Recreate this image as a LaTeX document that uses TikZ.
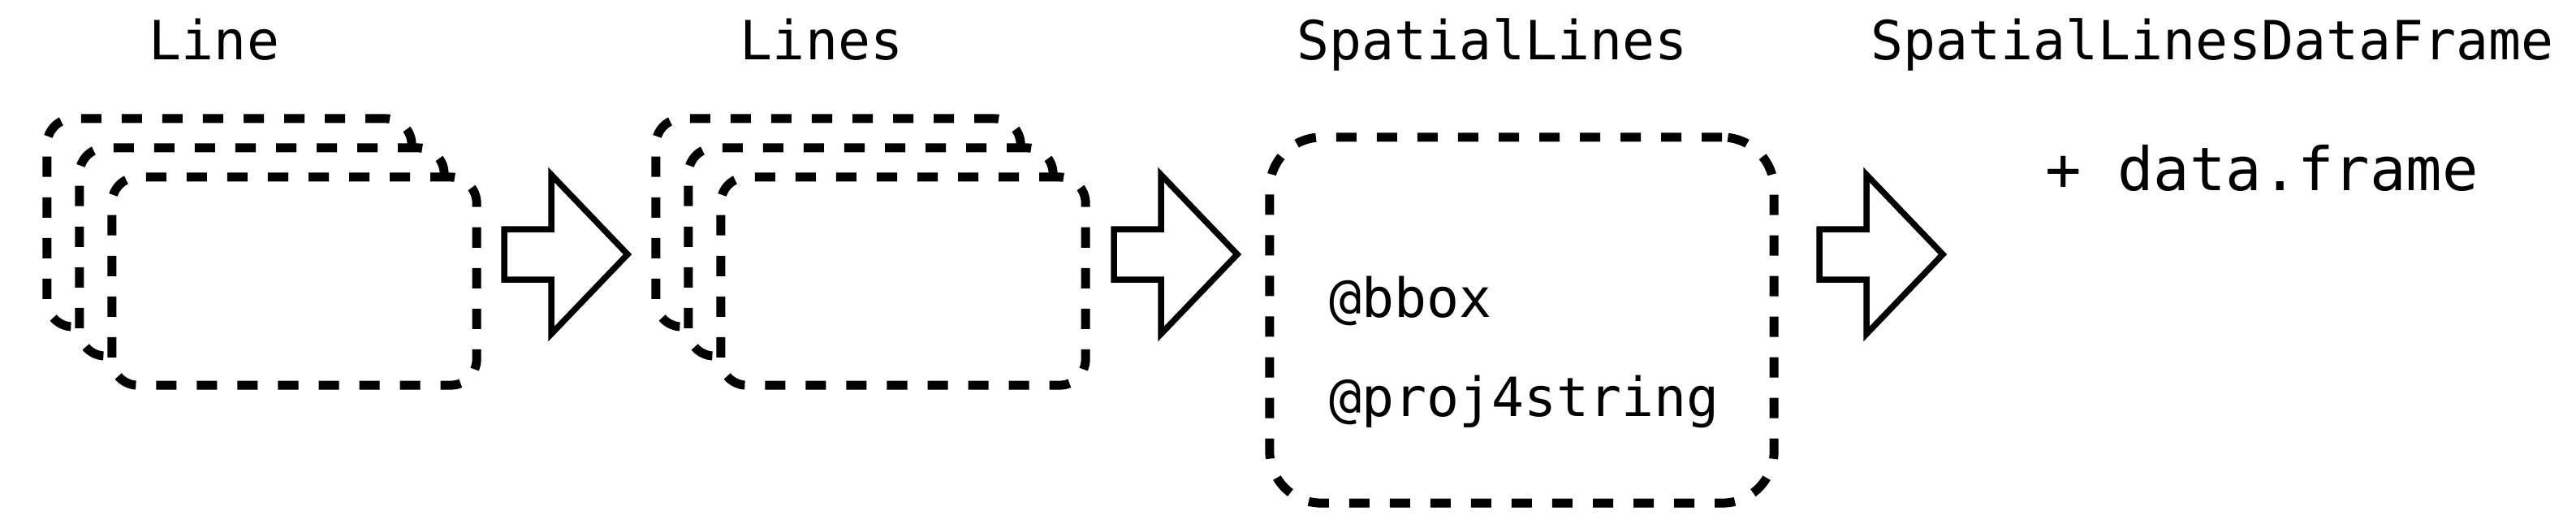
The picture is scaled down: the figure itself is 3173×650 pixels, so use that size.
\documentclass[tikz,border=0pt]{standalone}
\usepackage{fontspec}
\setmonofont{DejaVu Sans Mono}
\begin{document}
\begin{tikzpicture}[x=0.01cm,y=-0.01cm,
  dbox/.style={draw, line width=0.11cm, dash pattern=on 0.25cm off 0.25cm,
    fill=white, rounded corners=0.32cm, minimum width=4.49cm, minimum height=2.56cm,
    inner sep=0pt, outer sep=0pt},
  bigbox/.style={dbox, rounded corners=0.64cm, minimum width=6.21cm, minimum height=4.5cm},
  head/.style={font=\ttfamily\fontsize{18.9}{22}\selectfont, anchor=base, inner sep=0pt},
  slot/.style={font=\ttfamily\fontsize{18.9}{22}\selectfont, anchor=base west, inner sep=0pt},
  extra/.style={font=\ttfamily\fontsize{21}{25}\selectfont, anchor=base, inner sep=0pt},
  blockarrow/.pic={\draw[line width=0.075cm, fill=white, line join=miter]
    (0,-31) -- (58,-31) -- (58,-98) -- (152,0) -- (58,98) -- (58,31) -- (0,31) -- cycle;}
]
\useasboundingbox[fill=white] (0,0) rectangle (3173,650);

% headings
\node[head] (hLine) at (264,73) {Line};
\node[head] (hLines) at (1012,73) {Lines};
\node[head] (hSL) at (1838,73) {SpatialLines};
\node[head] (hSLDF) at (2725,73) {SpatialLinesDataFrame};

% group 1: Line
\node[dbox] (a1) at (282.5,274) {};
\node[dbox] (a2) at (322.5,310) {};
\node[dbox] (a3) at (362.5,346) {};

% group 2: Lines
\node[dbox] (b1) at (1032.5,274) {};
\node[dbox] (b2) at (1072.5,310) {};
\node[dbox] (b3) at (1112.5,346) {};

% SpatialLines box
\node[bigbox] (sl) at (1874.5,394) {};
\node[slot] (bbox) at (1637,390) {@bbox};
\node[slot] (proj) at (1637,512) {@proj4string};

% data frame
\node[extra] (df) at (2786,234) {+ data.frame};

% block arrows
\coordinate (p1) at (621,313);
\coordinate (p2) at (1372,313);
\coordinate (p3) at (2241,313);
\pic at (p1) {blockarrow};
\pic at (p2) {blockarrow};
\pic at (p3) {blockarrow};
\end{tikzpicture}
\end{document}
